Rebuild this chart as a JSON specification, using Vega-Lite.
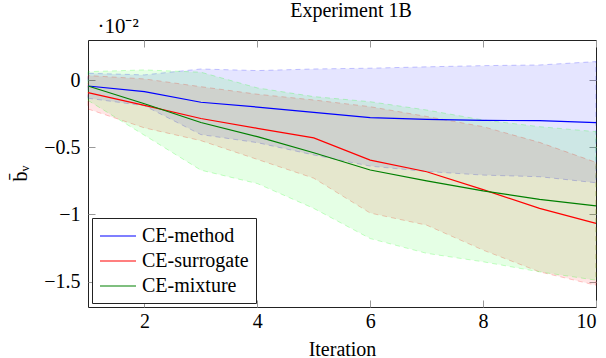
{
  "$schema": "https://vega.github.io/schema/vega-lite/v6.json",
  "autosize": {"type": "none"},
  "padding": {"left": 88, "top": 40, "right": 10, "bottom": 51},
  "width": 508,
  "height": 267,
  "background": "white",
  "title": {"text": "Experiment 1B", "font": "Liberation Serif", "fontSize": 20, "fontWeight": "normal", "color": "black", "anchor": "middle", "frame": "group", "baseline": "alphabetic", "offset": -22, "dx": 9},
  "config": {
    "view": {"stroke": "#222", "strokeWidth": 1},
    "axis": {"labelFont": "Liberation Serif", "labelFontSize": 20, "titleFont": "Liberation Serif", "titleFontSize": 20, "titleFontWeight": "normal", "labelColor": "black", "titleColor": "black", "grid": false, "domain": false, "tickColor": "#999", "tickWidth": 1},
    "legend": {"labelFont": "Liberation Serif", "labelFontSize": 20, "labelColor": "black"}
  },
  "data": {"values": [
    {"series": "CE-method", "iter": 1, "mean": -0.043, "lo": -0.134, "hi": 0.052},
    {"series": "CE-method", "iter": 2, "mean": -0.085, "lo": -0.19, "hi": 0.04},
    {"series": "CE-method", "iter": 3, "mean": -0.164, "lo": -0.405, "hi": 0.084},
    {"series": "CE-method", "iter": 4, "mean": -0.2, "lo": -0.465, "hi": 0.072},
    {"series": "CE-method", "iter": 5, "mean": -0.239, "lo": -0.557, "hi": 0.084},
    {"series": "CE-method", "iter": 6, "mean": -0.279, "lo": -0.64, "hi": 0.09},
    {"series": "CE-method", "iter": 7, "mean": -0.291, "lo": -0.68, "hi": 0.1},
    {"series": "CE-method", "iter": 8, "mean": -0.299, "lo": -0.707, "hi": 0.109},
    {"series": "CE-method", "iter": 9, "mean": -0.301, "lo": -0.719, "hi": 0.114},
    {"series": "CE-method", "iter": 10, "mean": -0.316, "lo": -0.764, "hi": 0.139},
    {"series": "CE-surrogate", "iter": 1, "mean": -0.092, "lo": -0.214, "hi": 0.035},
    {"series": "CE-surrogate", "iter": 2, "mean": -0.187, "lo": -0.355, "hi": 0.01},
    {"series": "CE-surrogate", "iter": 3, "mean": -0.285, "lo": -0.45, "hi": -0.048},
    {"series": "CE-surrogate", "iter": 4, "mean": -0.358, "lo": -0.59, "hi": -0.104},
    {"series": "CE-surrogate", "iter": 5, "mean": -0.43, "lo": -0.73, "hi": -0.147},
    {"series": "CE-surrogate", "iter": 6, "mean": -0.595, "lo": -0.99, "hi": -0.197},
    {"series": "CE-surrogate", "iter": 7, "mean": -0.682, "lo": -1.08, "hi": -0.27},
    {"series": "CE-surrogate", "iter": 8, "mean": -0.815, "lo": -1.266, "hi": -0.346},
    {"series": "CE-surrogate", "iter": 9, "mean": -0.955, "lo": -1.428, "hi": -0.463},
    {"series": "CE-surrogate", "iter": 10, "mean": -1.067, "lo": -1.528, "hi": -0.612},
    {"series": "CE-mixture", "iter": 1, "mean": -0.043, "lo": -0.15, "hi": 0.064},
    {"series": "CE-mixture", "iter": 2, "mean": -0.175, "lo": -0.41, "hi": 0.077},
    {"series": "CE-mixture", "iter": 3, "mean": -0.315, "lo": -0.67, "hi": 0.06},
    {"series": "CE-mixture", "iter": 4, "mean": -0.42, "lo": -0.77, "hi": -0.057},
    {"series": "CE-mixture", "iter": 5, "mean": -0.54, "lo": -0.955, "hi": -0.122},
    {"series": "CE-mixture", "iter": 6, "mean": -0.669, "lo": -1.18, "hi": -0.16},
    {"series": "CE-mixture", "iter": 7, "mean": -0.75, "lo": -1.29, "hi": -0.222},
    {"series": "CE-mixture", "iter": 8, "mean": -0.824, "lo": -1.353, "hi": -0.296},
    {"series": "CE-mixture", "iter": 9, "mean": -0.888, "lo": -1.428, "hi": -0.346},
    {"series": "CE-mixture", "iter": 10, "mean": -0.936, "lo": -1.49, "hi": -0.383}
  ]},
  "layer": [
    {
      "mark": {"type": "area", "fillOpacity": 0.1, "strokeOpacity": 0.22, "strokeWidth": 1, "strokeDash": [5, 4]},
      "encoding": {
        "x": {"field": "iter", "type": "quantitative", "scale": {"domain": [1, 10], "nice": false}, "axis": null},
        "y": {"field": "lo", "type": "quantitative", "scale": {"domain": [-1.69, 0.3], "nice": false, "zero": false}, "axis": null},
        "y2": {"field": "hi"},
        "fill": {"field": "series", "type": "nominal", "scale": {"domain": ["CE-method", "CE-surrogate", "CE-mixture"], "range": ["#0000ff", "#ff0000", "#00ff00"]}, "legend": null},
        "stroke": {"field": "series", "type": "nominal", "scale": {"domain": ["CE-method", "CE-surrogate", "CE-mixture"], "range": ["#0000ff", "#ff0000", "#00ff00"]}, "legend": null}
      }
    },
    {
      "mark": {"type": "line", "strokeWidth": 1.2},
      "encoding": {
        "x": {"field": "iter", "type": "quantitative", "scale": {"domain": [1, 10], "nice": false},
              "axis": {"orient": "bottom", "values": [2, 4, 6, 8, 10], "format": "d", "ticks": false, "labelPadding": 4, "title": "Iteration", "titleY": 48, "titleBaseline": "alphabetic"}},
        "y": {"field": "mean", "type": "quantitative", "scale": {"domain": [-1.69, 0.3], "nice": false, "zero": false},
              "axis": {"orient": "left", "values": [-1.5, -1, -0.5, 0], "format": "~g", "ticks": false, "labelPadding": 8, "title": "b̄ᵥ", "titleX": -62, "titleY": 133, "titleAngle": -90, "titleAlign": "center", "titleBaseline": "alphabetic"}},
        "color": {"field": "series", "type": "nominal", "scale": {"domain": ["CE-method", "CE-surrogate", "CE-mixture"], "range": ["#0000ff", "#ff0000", "#008000"]},
                  "legend": {"title": null, "orient": "bottom-left", "offset": 4, "padding": 7, "strokeColor": "#222", "fillColor": "white", "cornerRadius": 0,
                             "symbolType": "M-1.8,0L1.8,0", "symbolSize": 400, "symbolStrokeWidth": 1.2, "symbolOffset": 8, "labelOffset": 13, "rowPadding": 4}}
      }
    },
    {
      "mark": {"type": "point", "opacity": 0},
      "encoding": {
        "x": {"field": "iter", "type": "quantitative", "scale": {"domain": [1, 10], "nice": false},
              "axis": {"orient": "bottom", "values": [2, 4, 6, 8, 10], "labels": false, "tickSize": -7, "title": null}},
        "y": {"field": "mean", "type": "quantitative", "scale": {"domain": [-1.69, 0.3], "nice": false, "zero": false},
              "axis": {"orient": "left", "values": [-1.5, -1, -0.5, 0], "labels": false, "tickSize": -7, "title": null}}
      }
    },
    {
      "mark": {"type": "point", "opacity": 0},
      "encoding": {
        "x": {"field": "iter", "type": "quantitative", "scale": {"domain": [1, 10], "nice": false},
              "axis": {"orient": "top", "values": [2, 4, 6, 8, 10], "labels": false, "tickSize": -7, "title": "·10⁻²", "titleFontSize": 21, "titleX": 9, "titleY": -8, "titleAlign": "left", "titleAnchor": "start", "titleBaseline": "alphabetic"}},
        "y": {"field": "mean", "type": "quantitative", "scale": {"domain": [-1.69, 0.3], "nice": false, "zero": false},
              "axis": {"orient": "right", "values": [-1.5, -1, -0.5, 0], "labels": false, "tickSize": -7, "title": null}}
      }
    }
  ],
  "resolve": {"scale": {"fill": "independent", "stroke": "independent", "color": "independent"}, "axis": {"x": "independent", "y": "independent"}}
}
